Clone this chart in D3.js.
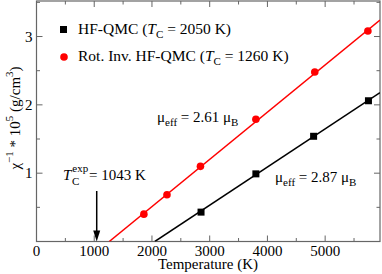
<!DOCTYPE html>
<html>
<head>
<meta charset="utf-8">
<script src="https://cdn.jsdelivr.net/npm/d3@7"></script>
<style>
  body { margin: 0; background: #fff; }
  #chart text { font-family: "Liberation Serif", serif; }
</style>
</head>
<body>
<svg id="chart" width="382" height="274"></svg>
<script>
// data
var tempHF = [2850, 3800, 4800, 5750];
var chiHF = [0.43, 0.99, 1.54, 2.06];
var tempRot = [1860, 2260, 2840, 3800, 4820, 5740];
var chiRot = [0.40, 0.685, 1.10, 1.79, 2.48, 3.08];
// fitted lines (Curie-Weiss), end points
var fitHF = [[2050, 0], [5950, 2.18]];
var fitRot = [[1260, 0], [5950, 3.24]];
var xTicks = [0, 1000, 2000, 3000, 4000, 5000];
var yTicks = [1, 2, 3];
var tcExp = 1043;

(function () {
  var svg = d3.select("#chart");
  var mLeft = 36.5, mRight = 380, mTop = 1, mBottom = 241.5;

  var x = d3.scaleLinear().domain([0, 5950]).range([mLeft, mRight]);
  var y = d3.scaleLinear().domain([0, 3.52]).range([mBottom, mTop]);

  var axisCol = "#666";

  // clip for lines
  svg.append("clipPath").attr("id", "clip")
    .append("rect").attr("x", mLeft).attr("y", mTop)
    .attr("width", mRight - mLeft).attr("height", mBottom - mTop);

  // ticks (inside) on all four sides
  var xMinor = d3.range(500, 5950, 1000);
  var yMinor = [0.5, 1.5, 2.5, 3.5].filter(d => d < 3.52);

  var tk = svg.append("g").attr("stroke", axisCol).attr("stroke-width", 1);
  xTicks.forEach(function (d) {
    if (d === 0) return;
    tk.append("line").attr("x1", x(d)).attr("x2", x(d)).attr("y1", mBottom).attr("y2", mBottom - 6);
    tk.append("line").attr("x1", x(d)).attr("x2", x(d)).attr("y1", mTop).attr("y2", mTop + 6);
  });
  xMinor.forEach(function (d) {
    tk.append("line").attr("x1", x(d)).attr("x2", x(d)).attr("y1", mBottom).attr("y2", mBottom - 3.5);
    tk.append("line").attr("x1", x(d)).attr("x2", x(d)).attr("y1", mTop).attr("y2", mTop + 3.5);
  });
  yTicks.forEach(function (d) {
    tk.append("line").attr("x1", mLeft).attr("x2", mLeft + 6).attr("y1", y(d)).attr("y2", y(d));
    tk.append("line").attr("x1", mRight).attr("x2", mRight - 6).attr("y1", y(d)).attr("y2", y(d));
  });
  yMinor.forEach(function (d) {
    tk.append("line").attr("x1", mLeft).attr("x2", mLeft + 3.5).attr("y1", y(d)).attr("y2", y(d));
    tk.append("line").attr("x1", mRight).attr("x2", mRight - 3.5).attr("y1", y(d)).attr("y2", y(d));
  });

  // frame
  svg.append("rect").attr("x", mLeft).attr("y", mTop)
    .attr("width", mRight - mLeft).attr("height", mBottom - mTop)
    .attr("fill", "none").attr("stroke", axisCol).attr("stroke-width", 1.2);

  // tick labels
  svg.append("g").selectAll("text").data(xTicks).join("text")
    .attr("x", d => x(d)).attr("y", 256)
    .attr("text-anchor", "middle").attr("font-size", 15)
    .text(d => d);
  svg.append("g").selectAll("text").data(yTicks).join("text")
    .attr("x", mLeft - 4).attr("y", d => y(d) + 5)
    .attr("text-anchor", "end").attr("font-size", 15)
    .text(d => d);

  // axis titles
  svg.append("text").attr("x", 208).attr("y", 269)
    .attr("text-anchor", "middle").attr("font-size", 15)
    .text("Temperature (K)");

  var yl = svg.append("text")
    .attr("transform", "translate(20,118) rotate(-90)")
    .attr("text-anchor", "middle").attr("font-size", 15);
  yl.append("tspan").text("χ");
  yl.append("tspan").attr("font-size", 11).attr("dy", -7).text("−1");
  yl.append("tspan").attr("dy", 7).text(" * 10");
  yl.append("tspan").attr("font-size", 11).attr("dy", -7).text("5");
  yl.append("tspan").attr("dy", 7).text(" (g/cm");
  yl.append("tspan").attr("font-size", 11).attr("dy", -7).text("3");
  yl.append("tspan").attr("dy", 7).text(")");

  // fit lines
  var line = d3.line().x(d => x(d[0])).y(d => y(d[1]));
  var plot = svg.append("g").attr("clip-path", "url(#clip)");
  plot.append("path").datum(fitRot).attr("d", line)
    .attr("fill", "none").attr("stroke", "#ff0000").attr("stroke-width", 1.5);
  plot.append("path").datum(fitHF).attr("d", line)
    .attr("fill", "none").attr("stroke", "#000").attr("stroke-width", 1.5);

  // markers
  svg.append("g").selectAll("circle").data(tempRot).join("circle")
    .attr("cx", d => x(d)).attr("cy", (d, i) => y(chiRot[i]))
    .attr("r", 3.8).attr("fill", "#ff0000");
  svg.append("g").selectAll("rect").data(tempHF).join("rect")
    .attr("x", d => x(d) - 3.5).attr("y", (d, i) => y(chiHF[i]) - 3.5)
    .attr("width", 7).attr("height", 7).attr("fill", "#000");

  // legend
  svg.append("rect").attr("x", 60).attr("y", 26).attr("width", 7).attr("height", 7).attr("fill", "#000");
  svg.append("circle").attr("cx", 64).attr("cy", 57).attr("r", 3.8).attr("fill", "#ff0000");

  function label(xp, yp, fs) {
    return svg.append("text").attr("x", xp).attr("y", yp).attr("font-size", fs || 15);
  }
  var l1 = label(78, 34, 15.5);
  l1.append("tspan").text("HF-QMC (");
  l1.append("tspan").attr("font-style", "italic").text("T");
  l1.append("tspan").attr("font-size", 11).attr("dy", 4).text("C");
  l1.append("tspan").attr("dy", -4).text(" = 2050 K)");
  var l2 = label(78, 61, 15.5);
  l2.append("tspan").text("Rot. Inv. HF-QMC (");
  l2.append("tspan").attr("font-style", "italic").text("T");
  l2.append("tspan").attr("font-size", 11).attr("dy", 4).text("C");
  l2.append("tspan").attr("dy", -4).text(" = 1260 K)");

  // mu_eff annotations
  function muText(xp, yp, val) {
    var t = label(xp, yp);
    t.append("tspan").text("μ");
    t.append("tspan").attr("font-size", 11).attr("dy", 4).text("eff");
    t.append("tspan").attr("dy", -4).text(" = " + val + " μ");
    t.append("tspan").attr("font-size", 11).attr("dy", 4).text("B");
  }
  muText(157, 122, "2.61");
  muText(275, 182, "2.87");

  // experimental Tc arrow
  var te = label(63, 180);
  te.append("tspan").attr("font-style", "italic").text("T");
  te.append("tspan").attr("font-size", 11).attr("dx", 1).attr("dy", -8).text("exp");
  te.append("tspan").attr("font-size", 11).attr("x", 72).attr("dy", 13).text("C");
  te.append("tspan").attr("x", 89).attr("dy", -5).text("= " + tcExp + " K");

  svg.append("line").attr("x1", x(tcExp)).attr("x2", x(tcExp))
    .attr("y1", 191).attr("y2", mBottom - 6)
    .attr("stroke", "#000").attr("stroke-width", 1.5);
  svg.append("path")
    .attr("d", "M" + (x(tcExp) - 3.5) + "," + (mBottom - 11) + " L" + (x(tcExp) + 3.5) + "," + (mBottom - 11) + " L" + x(tcExp) + "," + mBottom + " Z")
    .attr("fill", "#000");
})();
</script>
</body>
</html>
